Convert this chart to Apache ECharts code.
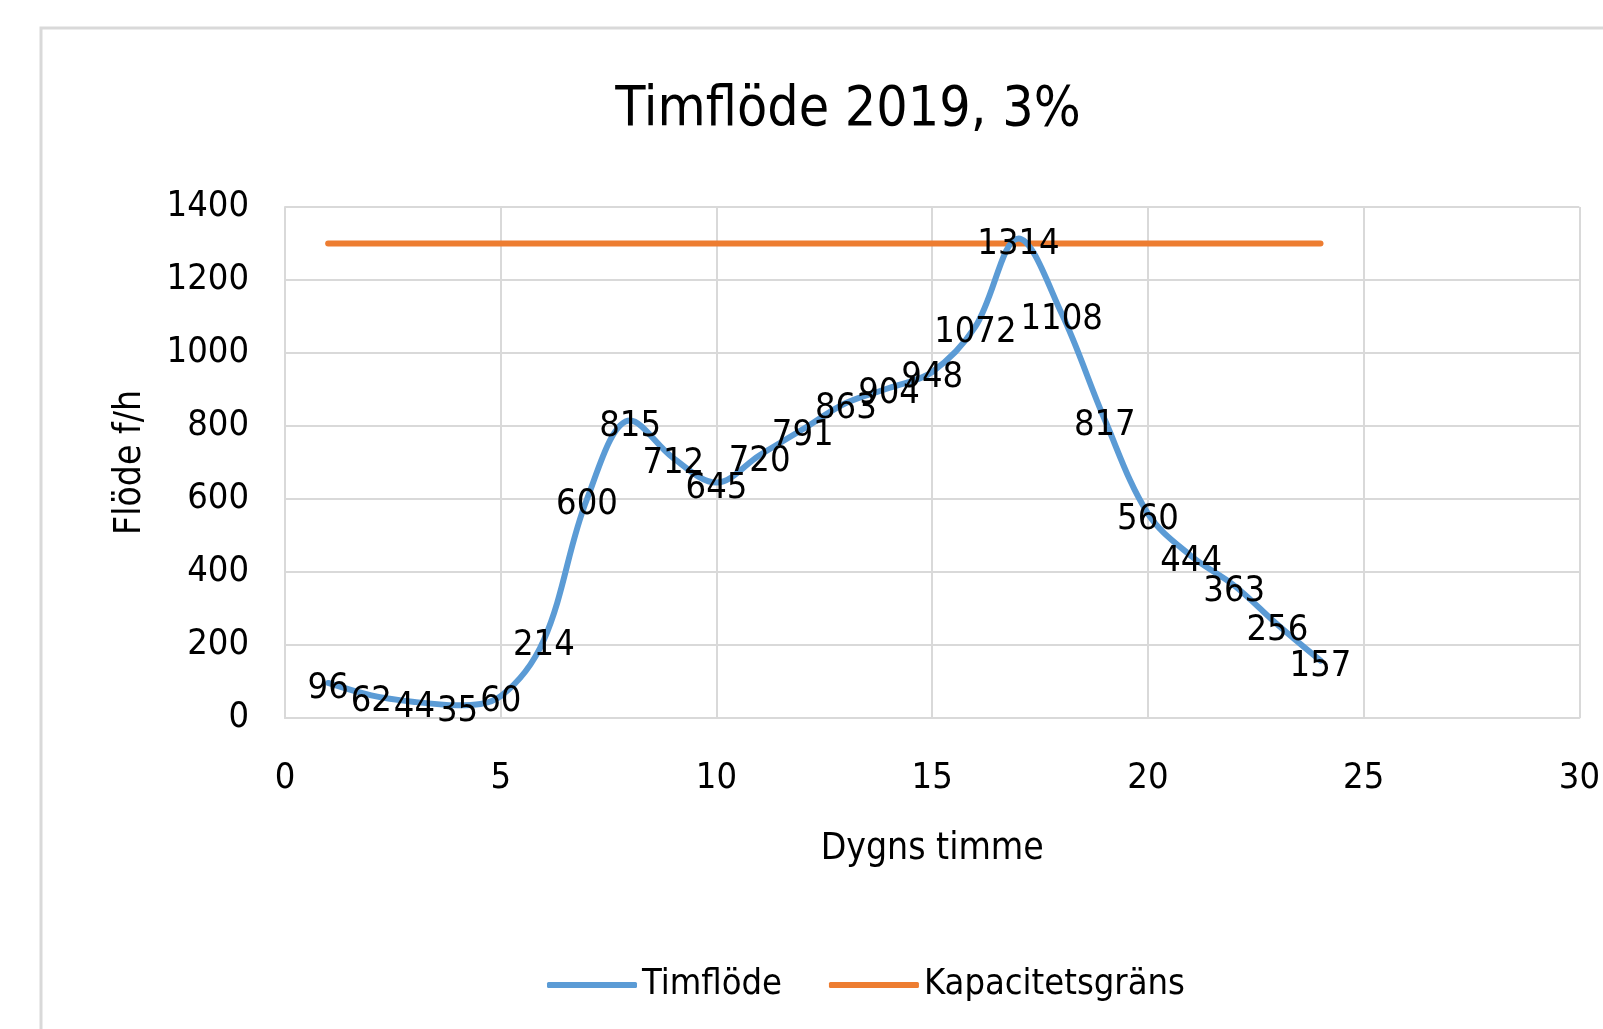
<!DOCTYPE html>
<html>
<head>
<meta charset="utf-8">
<script src="https://cdn.jsdelivr.net/npm/echarts@6/dist/echarts.min.js"></script>
<style>
html,body{margin:0;padding:0;background:#fff;}
#chart{width:1603px;height:1029px;}
</style>
</head>
<body>
<div id="chart"></div>
<script>
const hours = [1,2,3,4,5,6,7,8,9,10,11,12,13,14,15,16,17,18,19,20,21,22,23,24];
const flowValues = [96,62,44,35,60,214,600,815,712,645,720,791,863,904,948,1072,1314,1108,817,560,444,363,256,157];
const capacityHours = [1,24];
const capacityValues = [1300,1300];
const xTicks = [0,5,10,15,20,25,30];
const yTicks = [0,200,400,600,800,1000,1200,1400];

const FONT = "'DejaVu Sans Condensed','Liberation Sans Narrow',sans-serif";
const chart = echarts.init(document.getElementById('chart'), null, {renderer:'canvas'});
chart.setOption({
  backgroundColor:'#fff',
  animation:false,
  graphic:[{
    type:'rect', z:-10, silent:true,
    shape:{x:41,y:28,width:1620,height:1100},
    style:{fill:'#fff',stroke:'#d9d9d9',lineWidth:3}
  }],
  title:{
    text:'Timflöde 2019, 3%',
    left:843, top:78, textAlign:'center',
    textStyle:{fontFamily:FONT,fontSize:55,fontWeight:'normal',color:'#000'}
  },
  legend:{
    left:542, top:962,
    icon:'roundRect',
    itemWidth:90, itemHeight:6, itemGap:47,
    textStyle:{fontFamily:FONT,fontSize:36,color:'#000'},
    data:[
      {name:'Timflöde', itemStyle:{color:'#5b9bd5',opacity:1}},
      {name:'Kapacitetsgräns', itemStyle:{color:'#ed7d31',opacity:1}}
    ]
  },
  grid:{left:285,right:20,top:207,bottom:311,containLabel:false},
  xAxis:{
    type:'value', min:0, max:30, interval:5,
    name:'Dygns timme', nameLocation:'middle', nameGap:113,
    nameTextStyle:{fontFamily:FONT,fontSize:37,color:'#000'},
    axisLine:{show:true,lineStyle:{color:'#d9d9d9',width:2}},
    axisTick:{show:false},
    axisLabel:{fontFamily:FONT,fontSize:36,color:'#000',margin:43,
      formatter:v=>xTicks.includes(v)?String(v):''},
    splitLine:{show:true,lineStyle:{color:'#d9d9d9',width:2}}
  },
  yAxis:{
    type:'value', min:0, max:1400, interval:200,
    name:'Flöde f/h', nameLocation:'middle', nameGap:136, nameRotate:90,
    nameTextStyle:{fontFamily:FONT,fontSize:37,color:'#000'},
    axisLine:{show:true,lineStyle:{color:'#d9d9d9',width:2}},
    axisTick:{show:false},
    axisLabel:{fontFamily:FONT,fontSize:36,color:'#000',margin:36,
      formatter:v=>yTicks.includes(v)?String(v):''},
    splitLine:{show:true,lineStyle:{color:'#d9d9d9',width:2}}
  },
  series:[
    {
      name:'Timflöde', type:'line', smooth:0.35,
      symbol:'circle', symbolSize:2, showSymbol:true,
      data:hours.map((h,i)=>[h,flowValues[i]]),
      lineStyle:{color:'#5b9bd5',width:6,cap:'round'},
      itemStyle:{color:'#5b9bd5'},
      label:{show:true,position:[1,7],align:'center',verticalAlign:'middle',
        fontFamily:FONT,fontSize:36,color:'#000',opacity:1,
        formatter:p=>String(p.value[1])},
      labelLayout:{hideOverlap:false},
      z:3
    },
    {
      name:'Kapacitetsgräns', type:'line', symbol:'none',
      data:capacityHours.map((h,i)=>[h,capacityValues[i]]),
      lineStyle:{color:'#ed7d31',width:6,cap:'round'},
      itemStyle:{color:'#ed7d31'},
      z:2
    }
  ]
});
</script>
</body>
</html>
